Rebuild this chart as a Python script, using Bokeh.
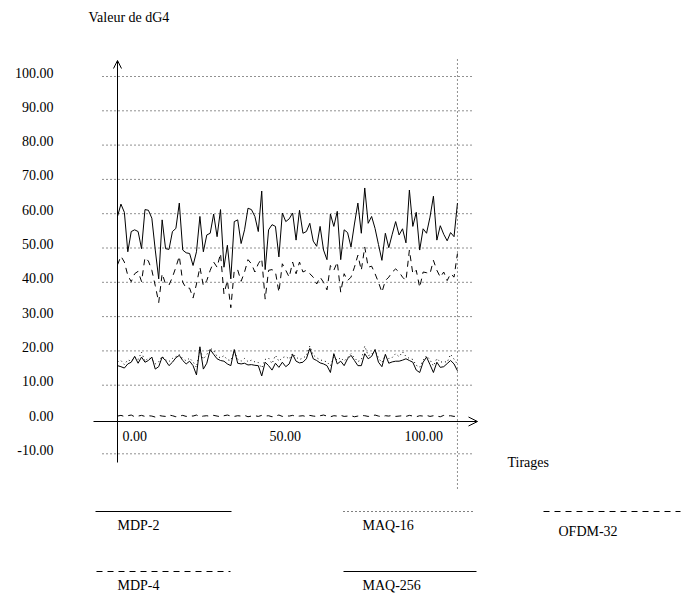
from bokeh.plotting import figure
from bokeh.models import Range1d, Arrow, OpenHead
from bokeh.core.properties import value
from bokeh.embed import file_html
from bokeh.resources import INLINE

# ---------------- data ----------------
tirages = list(range(100))

mdp2 = [
    59.2, 62.8, 60.4, 48.9, 54.8, 55.3, 54.8, 49.8, 61.2, 61.0,
    58.7, 49.4, 41.0, 58.2, 49.8, 49.6, 54.8, 55.7, 63.1, 49.4,
    48.6, 48.4, 44.9, 48.9, 59.2, 48.9, 53.8, 54.3, 59.9, 53.3,
    61.2, 44.4, 50.8, 41.0, 57.7, 58.2, 51.3, 55.3, 61.6, 61.2,
    59.2, 54.8, 66.6, 43.7, 55.3, 56.8, 56.3, 47.4, 60.2, 57.7,
    58.5, 60.2, 52.3, 61.0, 54.3, 54.8, 57.2, 52.0, 50.5, 56.3,
    49.4, 46.6, 59.9, 56.3, 60.7, 46.6, 55.3, 54.5, 50.3, 57.0,
    63.1, 54.3, 67.5, 57.2, 59.2, 55.7, 51.0, 46.4, 54.3, 50.1,
    54.0, 57.7, 53.8, 55.6, 51.5, 66.9, 56.3, 60.4, 49.4, 55.6,
    54.3, 59.0, 65.1, 52.3, 56.5, 54.0, 52.1, 54.5, 53.3, 63.1,
]

mdp4 = [
    45.1, 47.6, 45.9, 42.0, 40.2, 42.5, 43.2, 40.2, 47.2, 46.2,
    43.5, 39.0, 34.1, 42.5, 39.5, 39.2, 41.5, 44.4, 47.6, 40.0,
    38.3, 38.3, 35.4, 39.5, 44.4, 39.0, 40.5, 43.5, 45.9, 44.4,
    48.4, 36.6, 40.5, 32.6, 43.5, 43.6, 40.3, 43.0, 46.6, 45.4,
    43.0, 45.4, 46.9, 35.1, 43.5, 43.7, 43.0, 37.1, 45.4, 43.5,
    41.5, 45.9, 42.5, 45.9, 43.0, 43.5, 42.5, 41.5, 39.5, 41.5,
    40.0, 37.8, 44.9, 43.5, 45.9, 37.1, 42.5, 40.5, 41.5, 44.4,
    47.9, 43.5, 50.3, 44.4, 44.7, 42.5, 40.0, 37.1, 40.5, 41.5,
    43.0, 43.9, 43.0, 41.5, 40.5, 49.4, 42.5, 43.5, 38.5, 43.0,
    42.8, 42.5, 46.4, 43.5, 41.5, 43.0, 40.5, 42.5, 41.5, 48.4,
]

maq16 = [
    16.8, 17.2, 16.0, 17.4, 17.0, 18.2, 17.5, 19.6, 17.0, 18.0,
    17.6, 16.2, 16.8, 18.5, 17.4, 16.9, 17.8, 18.3, 18.9, 17.8,
    17.1, 17.9, 16.8, 15.2, 20.4, 17.6, 18.9, 20.8, 20.1, 18.4,
    18.0, 18.6, 17.4, 17.2, 19.8, 17.6, 17.0, 17.8, 16.9, 17.3,
    16.8, 16.6, 15.0, 17.5, 17.9, 16.3, 18.7, 17.0, 18.0, 18.4,
    17.6, 19.3, 18.2, 17.5, 17.9, 18.6, 21.4, 18.8, 18.0, 17.4,
    17.1, 16.8, 15.6, 18.2, 17.3, 18.0, 17.0, 18.1, 19.2, 18.0,
    16.9, 17.4, 21.4, 18.6, 19.0, 20.3, 17.9, 16.6, 18.8, 17.8,
    18.1, 19.2, 18.3, 19.7, 18.4, 17.8, 17.5, 15.8, 15.2, 17.3,
    18.6, 17.4, 15.6, 17.8, 16.7, 16.9, 16.7, 19.0, 17.6, 16.1,
]

maq256 = [
    15.7, 15.4, 15.0, 16.2, 16.7, 18.4, 16.4, 18.2, 16.7, 17.2,
    18.2, 14.7, 15.4, 18.2, 17.2, 15.7, 16.7, 18.0, 18.7, 17.2,
    16.2, 17.0, 15.7, 13.0, 21.2, 14.7, 16.4, 20.4, 19.0, 17.7,
    17.2, 17.0, 16.2, 15.7, 20.4, 16.4, 16.2, 16.4, 15.9, 16.0,
    15.8, 15.7, 12.7, 16.7, 15.7, 14.4, 16.4, 15.2, 16.7, 15.4,
    16.2, 19.0, 17.0, 16.5, 16.7, 17.7, 20.7, 17.7, 17.2, 16.5,
    16.2, 15.7, 13.7, 19.2, 16.2, 17.0, 15.7, 17.7, 18.7, 17.2,
    15.7, 15.7, 19.2, 17.7, 18.4, 20.4, 16.7, 15.4, 19.0, 16.4,
    16.8, 17.0, 17.0, 17.3, 17.7, 17.2, 16.7, 14.4, 13.7, 16.7,
    18.2, 16.0, 13.7, 16.7, 15.2, 15.4, 16.3, 17.2, 16.2, 14.2,
]

ofdm32 = [
    1.0, 1.2, 0.9, 1.1, 1.3, 0.8, 1.0, 1.2, 0.9, 1.1,
    1.0, 0.7, 1.2, 1.0, 0.9, 1.3, 1.1, 0.8, 1.0, 1.2,
    0.9, 1.1, 1.0, 1.3, 0.8, 1.0, 1.1, 0.9, 1.2, 1.0,
    0.8, 1.1, 1.3, 1.0, 0.9, 1.1, 1.0, 1.2, 0.8, 1.0,
    1.1, 0.9, 1.2, 1.0, 1.1, 0.8, 1.0, 1.3, 0.9, 1.1,
    1.0, 1.2, 0.9, 1.0, 1.1, 0.8, 1.2, 1.0, 0.9, 1.1,
    1.3, 1.0, 0.8, 1.1, 1.0, 1.2, 0.9, 1.0, 1.1, 0.8,
    1.0, 1.2, 1.1, 0.9, 1.0, 1.3, 1.0, 0.8, 1.1, 1.0,
    1.2, 0.9, 1.0, 1.1, 0.9, 1.2, 1.0, 0.8, 1.1, 1.0,
    1.2, 0.9, 1.1, 1.0, 0.8, 1.2, 1.0, 1.1, 0.9, 1.0,
]

y_ticks = [-10, 0, 10, 20, 30, 40, 50, 60, 70, 80, 90, 100]
x_ticks = [0, 50, 100]
series_names = ["MDP-2", "MDP-4", "MAQ-16", "MAQ-256", "OFDM-32"]
y_title = "Valeur de dG4"
x_title = "Tirages"

# ---------------- layout (pixels of the 687x593 page) ----------------
W, H = 687, 593
X0_PX, XS = 117.0, 3.434     # pixel of x=0, pixels per unit
Y0_PX, YS = 419.0, 3.43      # pixel of y=0 (from top), pixels per unit


def dx(px):
    return (px - X0_PX) / XS


def dy(py):
    return (Y0_PX - py) / YS


FONT = value("Liberation Serif")
FS = "14px"
INK = "#000000"
DOTS = "1 3"
DASH = "6 5"

p = figure(width=W, height=H, output_backend="svg", toolbar_location=None,
           x_range=Range1d(dx(0), dx(W)), y_range=Range1d(dy(H), dy(0)),
           min_border=0, x_axis_location=None, y_axis_location=None)
p.outline_line_color = None
p.grid.visible = False
p.background_fill_color = "white"
p.border_fill_color = "white"

# horizontal dotted grid
grid_vals = [v for v in y_ticks if v != 0]
p.segment(x0=[dx(102)] * len(grid_vals), x1=[dx(473)] * len(grid_vals),
          y0=grid_vals, y1=grid_vals, line_color="#222222", line_width=1,
          line_dash=DOTS)
# vertical dotted line at the last draw
p.segment(x0=[tirages[-1]], x1=[tirages[-1]], y0=[dy(488)], y1=[dy(57)],
          line_color="#222222", line_width=1, line_dash=DOTS)

# axes with arrows
p.add_layout(Arrow(end=OpenHead(size=8, line_width=1, line_color=INK),
                   x_start=0, y_start=dy(462), x_end=0, y_end=dy(60),
                   line_width=1, line_color=INK))
p.add_layout(Arrow(end=OpenHead(size=9, line_width=1, line_color=INK),
                   x_start=dx(93), y_start=dy(421), x_end=dx(477), y_end=dy(421),
                   line_width=1, line_color=INK))

# y tick labels
p.text(x=[dx(53)] * len(y_ticks), y=[v + 4.0 / YS for v in y_ticks],
       text=[f"{v:.2f}" for v in y_ticks], text_font=FONT, text_font_size=FS,
       text_align="right", text_baseline="middle", text_color=INK)

# x tick labels
x_aligns = ["left", "center", "right"]
x_offs = [5, -4, -18]
for t, a, o in zip(x_ticks, x_aligns, x_offs):
    p.text(x=[t], y=[dy(435)], text=[f"{t:.2f}"], text_font=FONT,
           text_font_size=FS, text_align=a, text_baseline="middle",
           text_color=INK, x_offset=o)

# titles
p.text(x=[dx(88)], y=[dy(17)], text=[y_title], text_font=FONT, text_font_size=FS,
       text_align="left", text_baseline="middle", text_color=INK)
p.text(x=[dx(507)], y=[dy(462)], text=[x_title], text_font=FONT, text_font_size=FS,
       text_align="left", text_baseline="middle", text_color=INK)

# series
series_vals = {"MDP-2": mdp2, "MDP-4": mdp4, "MAQ-16": maq16,
               "MAQ-256": maq256, "OFDM-32": ofdm32}
dashes = {"MDP-2": "solid", "MDP-4": DASH, "MAQ-16": DOTS,
          "MAQ-256": "solid", "OFDM-32": DASH}
for name in ["MDP-2", "MDP-4", "MAQ-256", "MAQ-16", "OFDM-32"]:
    p.line(tirages, series_vals[name], line_color=INK, line_width=1,
           line_dash=dashes[name])

# legend (line x0, line x1, line y, label x, label y) in page pixels
legend_pos = {
    "MDP-2": (95, 231, 511, 117, 525),
    "MAQ-16": (343, 474, 511, 362, 525),
    "OFDM-32": (543, 680, 511, 558, 531),
    "MDP-4": (96, 230, 571, 117, 585),
    "MAQ-256": (343, 476, 571, 362, 585),
}
for name in series_names:
    lx0, lx1, ly, tx, ty = legend_pos[name]
    p.line([dx(lx0), dx(lx1)], [dy(ly), dy(ly)], line_color=INK, line_width=1,
           line_dash=dashes[name])
    p.text(x=[dx(tx)], y=[dy(ty)], text=[name], text_font=FONT, text_font_size=FS,
           text_align="left", text_baseline="middle", text_color=INK)

open("out.html", "w").write(file_html(p, INLINE))
